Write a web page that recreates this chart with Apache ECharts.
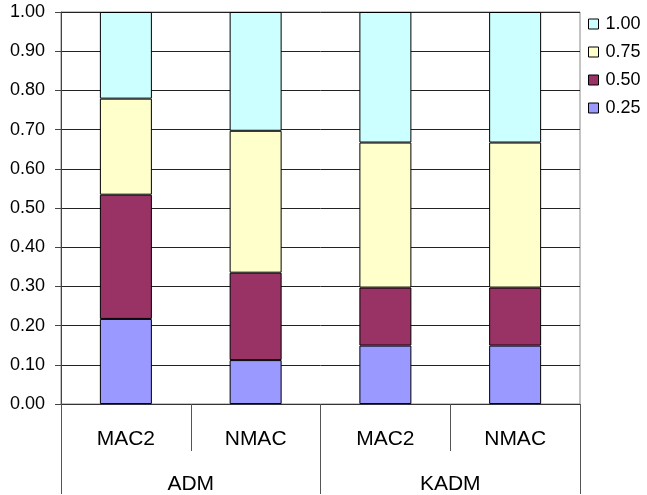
<!DOCTYPE html>
<html>
<head>
<meta charset="utf-8">
<script src="https://cdn.jsdelivr.net/npm/echarts@6/dist/echarts.min.js"></script>
<style>
html,body{margin:0;padding:0;background:#fff;}
#chart{width:647px;height:495px;}
</style>
</head>
<body>
<div id="chart"></div>
<script>
// Data
var subCategories = ['MAC2', 'NMAC', 'MAC2', 'NMAC'];
var groupCategories = ['ADM', 'KADM'];
var seriesNames = ['0.25', '0.50', '0.75', '1.00'];
var values025 = [0.217, 0.112, 0.149, 0.149];
var values050 = [0.317, 0.223, 0.148, 0.148];
var values075 = [0.245, 0.362, 0.370, 0.370];
var values100 = [0.221, 0.303, 0.333, 0.333];
var yTicks = ['0.00','0.10','0.20','0.30','0.40','0.50','0.60','0.70','0.80','0.90','1.00'];

var colors = ['#9999FF', '#993366', '#FFFFCC', '#CCFFFF'];
var allValues = [values025, values050, values075, values100];
var font = 'Liberation Sans, Arial, Helvetica, sans-serif';

var series = seriesNames.map(function (name, i) {
  return {
    name: name,
    type: 'bar',
    stack: 'total',
    barWidth: 52,
    data: allValues[i],
    itemStyle: { color: colors[i], borderColor: '#000', borderWidth: 1 },
    emphasis: { disabled: true }
  };
});

var chart = echarts.init(document.getElementById('chart'), null, { renderer: 'canvas' });
chart.setOption({
  animation: false,
  backgroundColor: '#ffffff',
  grid: { left: 61, right: 67, top: 12, bottom: 89, show: true, borderColor: '#888', borderWidth: 1 },
  legend: {
    orient: 'vertical',
    left: 588,
    top: 15,
    padding: 0,
    itemWidth: 10,
    itemHeight: 10,
    itemGap: 10,
    icon: 'rect',
    data: ['1.00', '0.75', '0.50', '0.25'],
    itemStyle: { borderColor: '#000', borderWidth: 1 },
    textStyle: { fontFamily: font, fontSize: 18, color: '#000', padding: [0, 0, 0, 2] }
  },
  xAxis: [
    {
      type: 'category',
      data: subCategories,
      position: 'bottom',
      axisLine: { show: true, lineStyle: { color: '#333', width: 1 } },
      axisTick: { show: true, length: 47, lineStyle: { color: '#555' } },
      axisLabel: { fontFamily: font, fontSize: 21, color: '#000', margin: 25 },
      splitLine: { show: false }
    },
    {
      type: 'category',
      data: groupCategories,
      position: 'bottom',
      axisLine: { show: false },
      axisTick: { show: true, length: 90, lineStyle: { color: '#555' } },
      axisLabel: { fontFamily: font, fontSize: 21, color: '#000', margin: 70 },
      splitLine: { show: false }
    }
  ],
  yAxis: {
    type: 'value',
    min: 0,
    max: 1,
    interval: 0.1,
    axisLine: { show: true, lineStyle: { color: '#444' } },
    axisTick: { show: true, length: 6, lineStyle: { color: '#444' } },
    axisLabel: {
      fontFamily: font, fontSize: 18, color: '#000', margin: 16,
      formatter: function (v) { return yTicks[Math.round(v * 10)]; }
    },
    splitLine: { show: true, lineStyle: { color: '#222', width: 1 } }
  },
  series: series
});
</script>
</body>
</html>
